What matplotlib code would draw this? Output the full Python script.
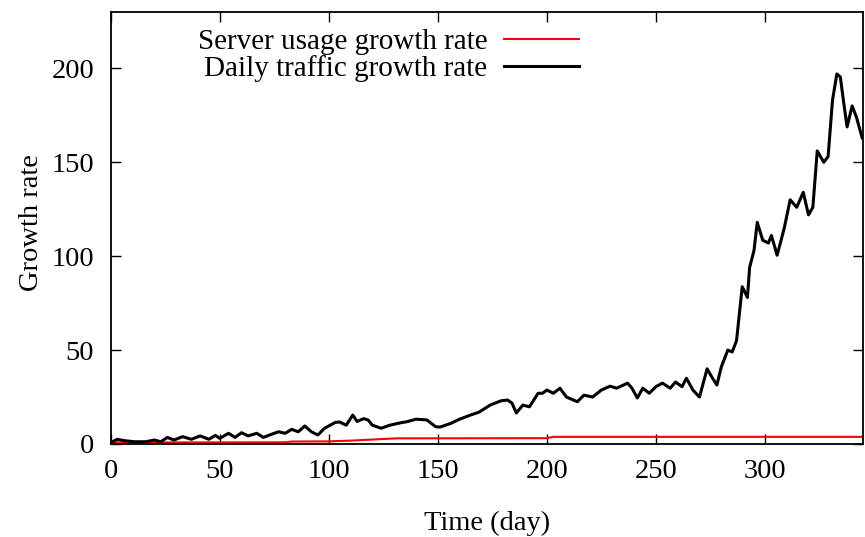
import matplotlib
matplotlib.use("Agg")
import matplotlib.pyplot as plt

# Daily traffic growth rate (black)
traffic_days = [0, 3, 6, 11, 16, 20, 23, 26, 29, 33, 37, 41, 45, 48, 50, 54, 57, 60, 63, 67,
                70, 74, 77, 80, 83, 86, 89, 92, 95, 98, 100, 103, 105, 108, 111, 113, 116, 118,
                120, 124, 128, 133, 136, 140, 145, 149, 151, 156, 160, 165, 169, 174, 179, 182,
                184, 186, 189, 192, 196, 198, 200, 203, 206, 209, 214, 217, 221, 225, 229, 232,
                237, 239, 241.5, 244, 247, 250, 253, 256.6, 259, 262, 264, 267, 270, 273.5, 276,
                278, 280, 283, 285, 287, 289.6, 292, 293, 295, 296.5, 299, 301.6, 303, 305.6,
                308, 309, 311.6, 314.6, 317.6, 320, 322, 324, 327, 329, 331, 333, 334.6, 336,
                337.7, 340, 342, 344.6]
traffic_vals = [0.7, 2.5, 1.8, 1.2, 1.2, 2.1, 1.2, 3.5, 2.1, 3.9, 2.5, 4.3, 2.5, 4.6, 3.0, 5.7,
                3.5, 6.0, 4.3, 5.7, 3.5, 5.3, 6.5, 5.7, 7.8, 6.5, 9.6, 6.5, 4.8, 8.3, 9.6, 11.5,
                11.7, 10, 15.4, 12, 13.5, 12.8, 10, 8.4, 10, 11.3, 11.9, 13.2, 12.8, 9.2, 9, 11,
                13.2, 15.4, 17, 20.7, 23, 23.4, 21.8, 16.5, 20.7, 19.8, 27, 27, 28.7, 27, 29.7,
                25, 22.5, 26, 25, 28.7, 30.8, 29.7, 32.4, 29.8, 24.5, 29.7, 27, 30.5, 32.4, 29.7,
                33, 30.5, 35, 28.7, 25, 40, 35, 31.4, 41, 50, 49, 55, 83.7, 78, 94, 103, 118,
                108.5, 107, 111, 100.5, 111, 115.6, 130, 126, 134, 122, 126, 156, 150, 153, 183,
                197, 195.4, 183, 168.8, 180, 174, 163]

# Server usage growth rate (red)
server_days = [0, 80, 83, 100, 110, 131, 200, 203, 346]
server_vals = [0.8, 0.9, 1.3, 1.4, 1.8, 3.0, 3.1, 3.8, 3.8]

x_ticks = [0, 50, 100, 150, 200, 250, 300]
y_ticks = [0, 50, 100, 150, 200]

plt.rcParams['font.family'] = ['Liberation Serif', 'DejaVu Serif']
FS = 20.5

fig = plt.figure(figsize=(8.65, 5.37), dpi=100)
ax = fig.add_axes([0.128, 0.1732, 0.8697, 0.8045])

ax.plot(server_days, server_vals, color='#ff0000', lw=1.5, label='Server usage growth rate')
ax.plot(traffic_days, traffic_vals, color='black', lw=2.2, label='Daily traffic growth rate')

ax.set_xlim(0, 345)
ax.set_ylim(0, 230)
ax.set_xticks(x_ticks)
ax.set_yticks(y_ticks)
ax.tick_params(direction='in', length=7, width=1.0, top=True, right=True, labelsize=FS)
ax.tick_params(axis='x', pad=11)
ax.tick_params(axis='y', pad=12)
for s in ax.spines.values():
    s.set_linewidth(1.3)

ax.set_xlabel('Time (day)', fontsize=FS, labelpad=19)
ax.set_ylabel('Growth rate', fontsize=FS, labelpad=8)
ax.yaxis.set_label_coords(-0.089, 0.512)

leg = ax.legend(loc='upper right', bbox_to_anchor=(0.623, 0.961), frameon=False,
                markerfirst=False, handlelength=2.6, handletextpad=0.55,
                labelspacing=0.0, fontsize=21, borderaxespad=0, borderpad=0)
for t in leg.get_texts():
    t.set_ha('right')

fig.savefig('out.png', dpi=100)
